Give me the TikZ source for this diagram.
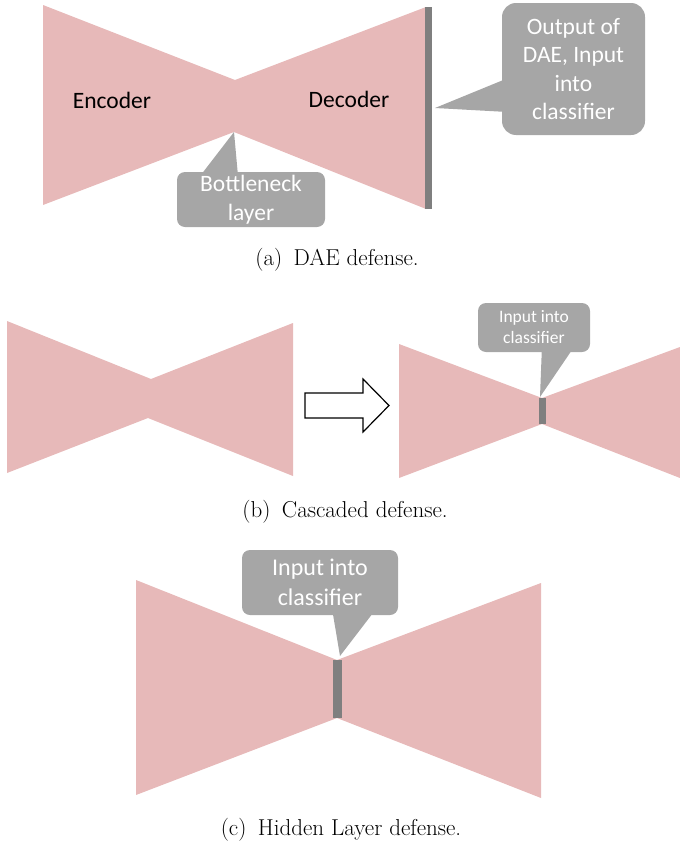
\documentclass[tikz,border=0pt]{standalone}
\usepackage{fontspec}
\newfontfamily\calibri{Carlito}
\usepackage{xcolor}
\usetikzlibrary{positioning, calc}
\definecolor{wingpink}{RGB}{231,185,185}
\definecolor{calloutgray}{RGB}{166,166,166}
\definecolor{layergray}{RGB}{127,127,127}
\tikzset{
  wing/.style={fill=wingpink, draw=none},
  layerbar/.style={fill=layergray, draw=none},
  callout/.style={rectangle, rounded corners=8pt, fill=calloutgray,
    text=white, align=center, inner sep=0pt},
  pointer/.style={fill=calloutgray, draw=none},
  partlabel/.style={font=\calibri\fontsize{23.5}{28}\selectfont, anchor=base},
  subcap/.style={font=\fontsize{23}{27}\selectfont, anchor=base},
  hollowarrow/.style={draw=black, line width=1.2pt, fill=white},
}

\begin{document}
\begin{tikzpicture}[x=1pt, y=-1pt]
  \useasboundingbox (0,0) rectangle (680,846);

  % (a) DAE defense
  \fill[wing] (43,5) -- (235,80) -- (426,7) -- (426,209) -- (234,132)
    -- (43,205) -- cycle;
  \fill[layerbar] (425,7) rectangle (432,209);
  \node[partlabel] (enc) at (112,108) {Encoder};
  \node[partlabel] (dec) at (349,107) {Decoder};

  \node[callout, minimum width=148pt, minimum height=55pt,
        font=\calibri\fontsize{23.5}{29}\selectfont]
    (neckbox) at (251,199.5) {Bottleneck\\layer};
  \coordinate (necktip) at (234,132);
  \fill[pointer] (necktip) -- ([xshift=25pt, yshift=-2pt]neckbox.north west)
    -- ([xshift=61pt, yshift=-2pt]neckbox.north west) -- cycle;

  \node[callout, rounded corners=14pt, minimum width=143pt, minimum height=132pt,
        font=\calibri\fontsize{23.5}{28.5}\selectfont]
    (outbox) at (573.5,69) {Output of\\DAE, Input\\into\\classifier};
  \coordinate (outtip) at (435,108);
  \fill[pointer] (outtip) -- ([xshift=2pt, yshift=-77pt]outbox.north west)
    -- ([xshift=2pt, yshift=-109pt]outbox.north west) -- cycle;

  \node[subcap] (capa) at (337,265) {(a)\enspace DAE defense.};

  % (b) Cascaded defense
  \fill[wing] (7,321) -- (151,379) -- (293,323) -- (293,476) -- (148,418)
    -- (7,473) -- cycle;
  \draw[hollowarrow] (305,393) -- (363,393) -- (363,379) -- (389,405.5)
    -- (363,432) -- (363,418) -- (305,418) -- cycle;
  \fill[wing] (399,344) -- (542,398) -- (680,347) -- (680,478) -- (542,424)
    -- (399,478) -- cycle;
  \fill[layerbar] (539,398) rectangle (546,424);

  \node[callout, minimum width=112pt, minimum height=49pt,
        font=\calibri\fontsize{17.5}{21}\selectfont]
    (inbox) at (534,327.5) {Input into\\classifier};
  \coordinate (intip) at (540,397);
  \fill[pointer] (intip) -- ([xshift=64pt, yshift=2pt]inbox.south west)
    -- ([xshift=94pt, yshift=2pt]inbox.south west) -- cycle;

  \node[subcap] (capb) at (345,517) {(b)\enspace Cascaded defense.};

  % (c) Hidden Layer defense
  \fill[wing] (136,580) -- (337,660) -- (541,583) -- (541,798) -- (337,718)
    -- (136,795) -- cycle;
  \fill[layerbar] (333,660) rectangle (342,718);

  \node[callout, minimum width=156pt, minimum height=65pt,
        font=\calibri\fontsize{24}{30}\selectfont]
    (hidbox) at (320,582.5) {Input into\\classifier};
  \coordinate (hidtip) at (340,656);
  \fill[pointer] (hidtip) -- ([xshift=91pt, yshift=2pt]hidbox.south west)
    -- ([xshift=131pt, yshift=2pt]hidbox.south west) -- cycle;

  \node[subcap] (capc) at (341,835) {(c)\enspace Hidden Layer defense.};
\end{tikzpicture}
\end{document}
